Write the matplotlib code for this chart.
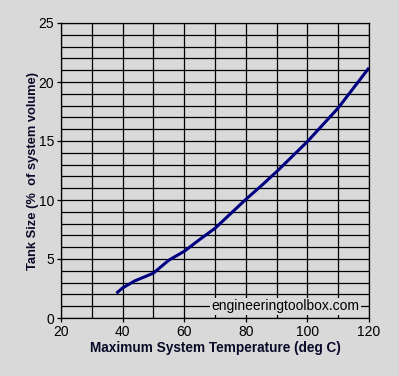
import matplotlib.pyplot as plt
import numpy as np

plt.rcParams['font.family'] = ['Liberation Sans', 'DejaVu Sans']

# curve
temp = [38, 40, 44, 50, 55, 60, 65, 70, 80, 85, 90, 100, 110, 120]
tank = [2.1, 2.55, 3.15, 3.8, 4.9, 5.65, 6.65, 7.6, 10.05, 11.2, 12.4, 14.95, 17.8, 21.2]

x_ticks = [20, 40, 60, 80, 100, 120]
y_ticks = [0, 5, 10, 15, 20, 25]

bg = '#d9d9d9'
txt = '#0a0a28'

fig = plt.figure(figsize=(3.99, 3.76), dpi=100, facecolor=bg)
ax = fig.add_axes([61/399, 58/376, 308/399, 295/376], facecolor=bg)

ax.set_xlim(20, 120)
ax.set_ylim(0, 25)
ax.set_xticks(x_ticks)
ax.set_yticks(y_ticks)
ax.set_xticks(np.arange(20, 121, 10), minor=True)
ax.set_yticks(np.arange(0, 26, 1), minor=True)
ax.grid(which='both', color='black', linewidth=0.9)
ax.tick_params(which='minor', length=0)
ax.tick_params(which='major', length=3, width=0.9, labelsize=10, pad=2)

for s in ax.spines.values():
    s.set_linewidth(0.9)

ax.plot(temp, tank, color='#000080', linewidth=2.2, solid_capstyle='butt', zorder=3)

ax.text(93, 1, 'engineeringtoolbox.com', ha='center', va='center', fontsize=10,
        color='black', zorder=4,
        bbox=dict(facecolor=bg, edgecolor='none', pad=1))

ax.set_xlabel('Maximum System Temperature (deg C)', fontsize=9.8, fontweight='bold',
              color=txt, labelpad=1.5)
ax.set_ylabel('Tank Size (%  of system volume)', fontsize=9.3, fontweight='bold',
              color=txt, labelpad=-0.5)

fig.savefig('out.png', dpi=100, facecolor=bg)
